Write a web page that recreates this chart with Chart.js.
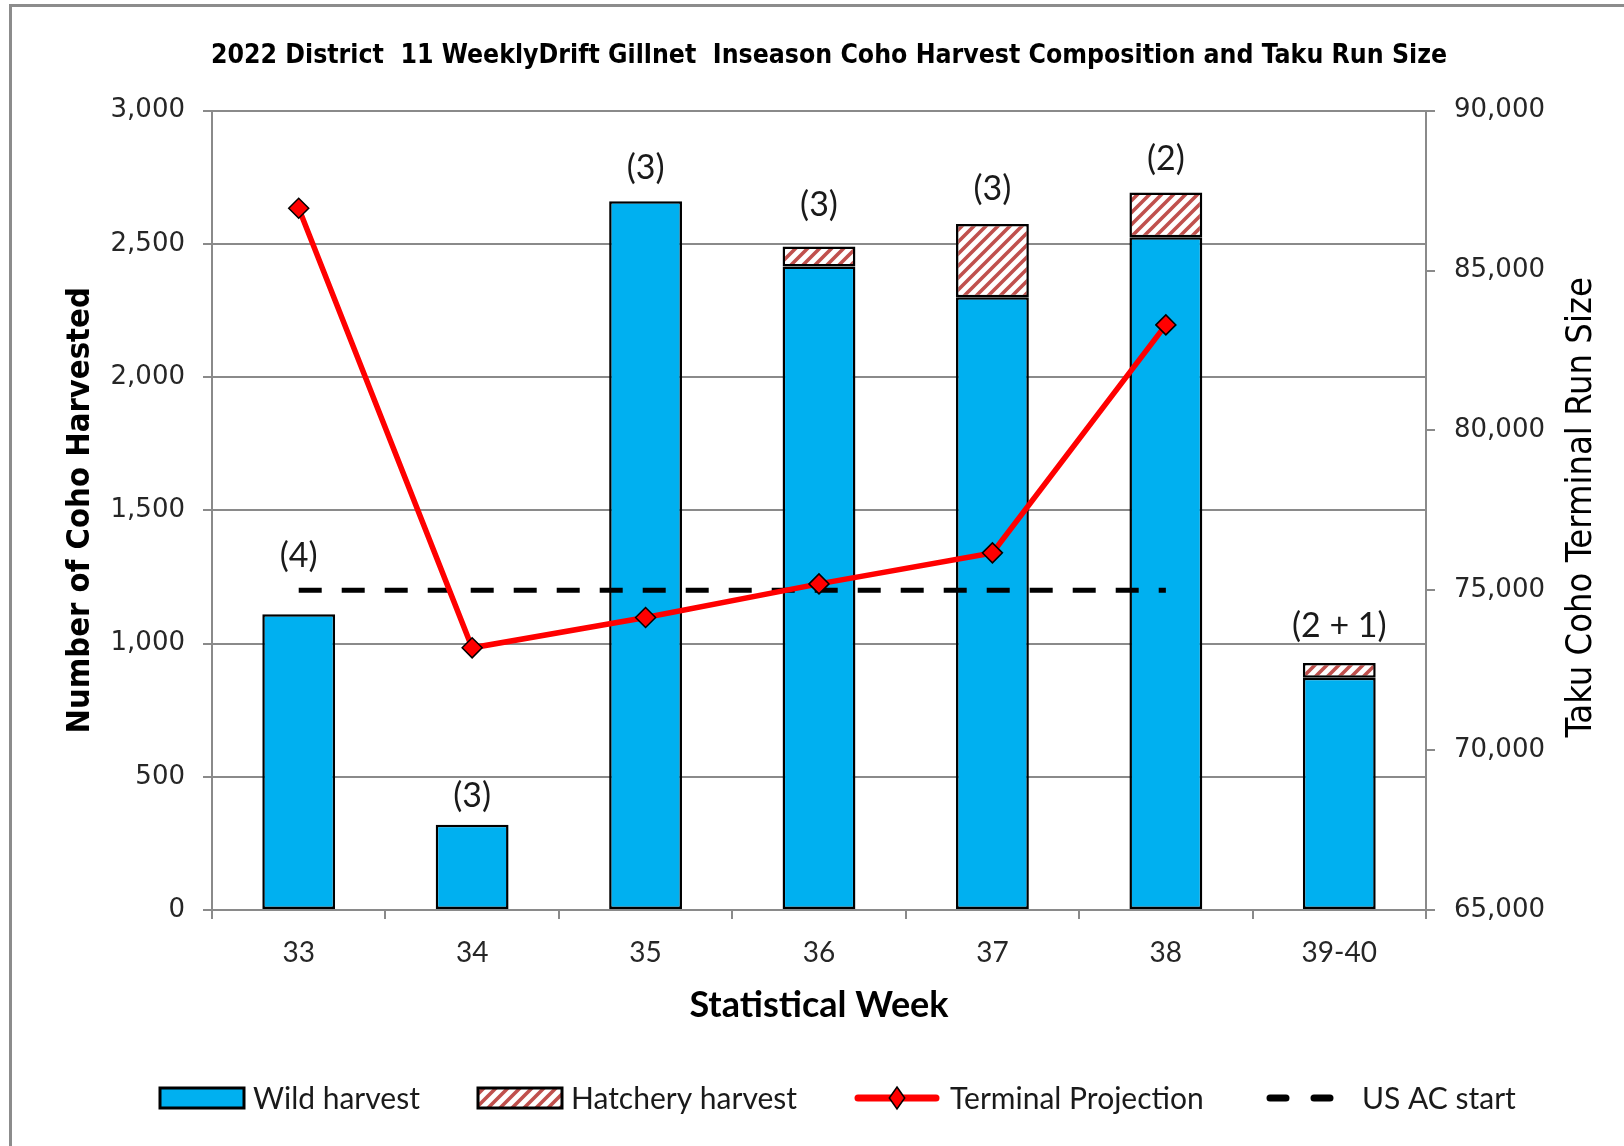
<!DOCTYPE html>
<html><head><meta charset="utf-8">
<script src="https://cdn.jsdelivr.net/npm/chart.js@4.4.0/dist/chart.umd.min.js"></script>
<style>html,body{margin:0;padding:0;background:#fff;}#wrap{width:1624px;height:1146px;position:relative;}canvas{display:block;}</style>
</head><body><div id="wrap"><canvas id="c" width="1624" height="1146"></canvas></div>
<script>
// ---------- data ----------
const weeks = ['33', '34', '35', '36', '37', '38', '39-40'];
const wildHarvest = [1110, 320, 2660, 2415, 2300, 2525, 872];
const hatcheryHarvest = [null, null, null, 75, 275, 168, 55];
const terminalProjection = [86950, 73200, 74150, 75200, 76170, 83300, null];
const usAcStart = [75000, 75000, 75000, 75000, 75000, 75000, null];
const sampleCounts = ['(4)', '(3)', '(3)', '(3)', '(3)', '(2)', '(2 + 1)'];
const chartTitle = '2022 District  11 WeeklyDrift Gillnet  Inseason Coho Harvest Composition and Taku Run Size';
const leftAxisTitle = 'Number of Coho Harvested';
const rightAxisTitle = 'Taku Coho Terminal Run Size';
const xAxisTitle = 'Statistical Week';

// ---------- styles ----------
const NARROW = "'Liberation Sans Narrow', 'DejaVu Sans Condensed', sans-serif";
const HUMAN = "Lato, 'Open Sans', sans-serif";
const WIDE = "'DejaVu Sans', Verdana, sans-serif";
const GRID = '#8a8a8a';
const WILD = '#00B0F0';
const HATCH = '#C0504D';

function hatchPattern() {
  const s = 12;
  const c = document.createElement('canvas');
  c.width = s; c.height = s;
  const g = c.getContext('2d');
  g.fillStyle = '#fff'; g.fillRect(0, 0, s, s);
  g.strokeStyle = HATCH; g.lineWidth = 3.6;
  g.beginPath();
  g.moveTo(-s, s); g.lineTo(s, -s);
  g.moveTo(0, 2 * s); g.lineTo(2 * s, 0);
  g.moveTo(0, s); g.lineTo(s, 0);
  g.stroke();
  return document.getElementById('c').getContext('2d').createPattern(c, 'repeat');
}
const hatchFill = hatchPattern();

const fmt = v => Number(v).toLocaleString('en-US');

const framePlugin = {
  id: 'frame',
  beforeDraw(chart) {
    const ctx = chart.ctx;
    ctx.save();
    ctx.fillStyle = '#fff';
    ctx.fillRect(0, 0, chart.width, chart.height);
    ctx.fillStyle = '#8c8c8c';
    ctx.fillRect(9, 4, 3, chart.height);
    ctx.fillRect(9, 4, chart.width, 3);
    ctx.restore();
  }
};

const countLabelPlugin = {
  id: 'countLabels',
  afterDatasetsDraw(chart, args, opts) {
    const ctx = chart.ctx;
    const xs = chart.scales.x, ys = chart.scales.y;
    ctx.save();
    ctx.font = opts.font;
    ctx.fillStyle = '#1a1a1a';
    ctx.textAlign = 'center';
    ctx.textBaseline = 'middle';
    sampleCounts.forEach((t, i) => {
      const total = (wildHarvest[i] || 0) + (hatcheryHarvest[i] || 0);
      ctx.fillText(t, xs.getPixelForValue(i), ys.getPixelForValue(total) - opts.offsets[i]);
    });
    ctx.restore();
  }
};

const rightTitlePlugin = {
  id: 'rightTitle',
  afterDraw(chart, args, opts) {
    const ctx = chart.ctx, a = chart.chartArea;
    ctx.save();
    ctx.translate(opts.x, (a.top + a.bottom) / 2 - 3);
    ctx.rotate(-Math.PI / 2);
    ctx.font = opts.font;
    ctx.fillStyle = '#000';
    ctx.textAlign = 'center';
    ctx.textBaseline = 'middle';
    ctx.fillText(rightAxisTitle, 0, 0);
    ctx.restore();
  }
};

const legendPlugin = {
  id: 'customLegend',
  afterDraw(chart, args, opts) {
    const ctx = chart.ctx;
    const ds = chart.data.datasets;
    ctx.save();
    ctx.font = opts.font;
    ctx.textBaseline = 'middle';
    ctx.textAlign = 'left';
    const iconW = 84;
    const y = opts.y;
    [0, 1, 2, 3].forEach((i, k) => {
      const d = ds[i];
      const x = opts.iconX[k];
      if (d.type === 'bar') {
        ctx.fillStyle = d.backgroundColor;
        ctx.fillRect(x, y - 10, iconW, 20);
        ctx.lineWidth = 3;
        ctx.strokeStyle = '#000';
        ctx.strokeRect(x, y - 10, iconW, 20);
      } else if (d.pointRadius > 0) {
        ctx.strokeStyle = d.borderColor;
        ctx.lineWidth = 7;
        ctx.lineCap = 'round';
        ctx.beginPath(); ctx.moveTo(x + 3, y); ctx.lineTo(x + iconW - 3, y); ctx.stroke();
        const cx = x + iconW / 2, r = 11;
        ctx.beginPath();
        ctx.moveTo(cx, y - r); ctx.lineTo(cx + r * 0.7, y); ctx.lineTo(cx, y + r); ctx.lineTo(cx - r * 0.7, y); ctx.closePath();
        ctx.fillStyle = d.pointBackgroundColor; ctx.fill();
        ctx.lineWidth = 1.5; ctx.strokeStyle = '#000'; ctx.stroke();
      } else {
        ctx.strokeStyle = d.borderColor;
        ctx.lineWidth = 7;
        ctx.lineCap = 'round';
        ctx.beginPath();
        ctx.moveTo(x + 4, y); ctx.lineTo(x + 20, y);
        ctx.moveTo(x + 48, y); ctx.lineTo(x + 64, y);
        ctx.stroke();
      }
      ctx.fillStyle = '#1a1a1a';
      ctx.fillText(d.label, opts.textX[k], y + 1);
    });
    ctx.restore();
  }
};

new Chart(document.getElementById('c'), {
  data: {
    labels: weeks,
    datasets: [
      { type: 'bar', label: 'Wild harvest', data: wildHarvest, yAxisID: 'y', stack: 'h',
        backgroundColor: WILD, borderColor: '#000', borderWidth: 2.5, borderSkipped: false,
        barPercentage: 0.42, categoryPercentage: 1, order: 3 },
      { type: 'bar', label: 'Hatchery harvest', data: hatcheryHarvest, yAxisID: 'y', stack: 'h',
        backgroundColor: hatchFill, borderColor: '#000', borderWidth: 2.5, borderSkipped: false,
        barPercentage: 0.42, categoryPercentage: 1, order: 4 },
      { type: 'line', label: 'Terminal Projection', data: terminalProjection, yAxisID: 'y2',
        borderColor: '#FF0000', borderWidth: 5.5, tension: 0, fill: false,
        pointStyle: 'rectRot', pointRadius: 10, pointBackgroundColor: '#FF0000',
        pointBorderColor: '#000', pointBorderWidth: 1.5, order: 1 },
      { type: 'line', label: 'US AC start', data: usAcStart, yAxisID: 'y2',
        borderColor: '#000', borderWidth: 5, borderDash: [23, 20], tension: 0, fill: false,
        pointRadius: 0, order: 2 }
    ]
  },
  options: {
    responsive: false,
    animation: false,
    devicePixelRatio: 1,
    layout: { padding: { left: 34, right: 0, top: 0, bottom: 116 } },
    plugins: {
      legend: { display: false },
      tooltip: { enabled: false },
      title: {
        display: true, text: chartTitle, color: '#000',
        font: { family: NARROW, size: 26.4, weight: 'bold' },
        padding: { top: 40, bottom: 39 }
      },
      countLabels: { font: '34px ' + HUMAN, offsets: [58, 29, 33, 42, 35, 33, 37] },
      rightTitle: { font: '36px ' + NARROW, x: 1582 },
      customLegend: { font: '30px ' + HUMAN, y: 1098, iconX: [160, 478, 855, 1266], textX: [253, 571, 950, 1362] }
    },
    scales: {
      x: {
        stacked: true,
        grid: { display: true, drawOnChartArea: false, drawTicks: true, tickLength: 9, color: GRID, lineWidth: 2, offset: true },
        border: { display: true, color: GRID, width: 2 },
        ticks: { color: '#262626', font: { family: HUMAN, size: 28 }, padding: 17, maxRotation: 0 },
        title: { display: true, text: xAxisTitle, color: '#000', font: { family: HUMAN, size: 36, weight: 'bold' }, padding: { top: 0, bottom: 3 } },
        afterFit(s) { s.height = 120; }
      },
      y: {
        stacked: true, position: 'left', min: 0, max: 3000,
        grid: { color: GRID, lineWidth: 2, tickLength: 9, drawTicks: true },
        border: { display: true, color: GRID, width: 2 },
        ticks: { stepSize: 500, color: '#262626', font: { family: WIDE, size: 26 }, padding: 18, callback: v => fmt(v) },
        title: { display: true, text: leftAxisTitle, color: '#000', font: { family: NARROW, size: 32.5, weight: 'bold' }, padding: { top: 27, bottom: 0 } },
        afterFit(s) { s.width = 178; }
      },
      y2: {
        stacked: false, position: 'right', min: 65000, max: 90000,
        grid: { drawOnChartArea: false, color: GRID, lineWidth: 2, tickLength: 9, drawTicks: true },
        border: { display: true, color: GRID, width: 2 },
        ticks: { stepSize: 5000, color: '#262626', font: { family: WIDE, size: 26 }, padding: 19, callback: v => fmt(v) },
        title: { display: false },
        afterFit(s) { s.width = 198; }
      }
    }
  },
  plugins: [framePlugin, countLabelPlugin, rightTitlePlugin, legendPlugin]
});
</script>
</body></html>
